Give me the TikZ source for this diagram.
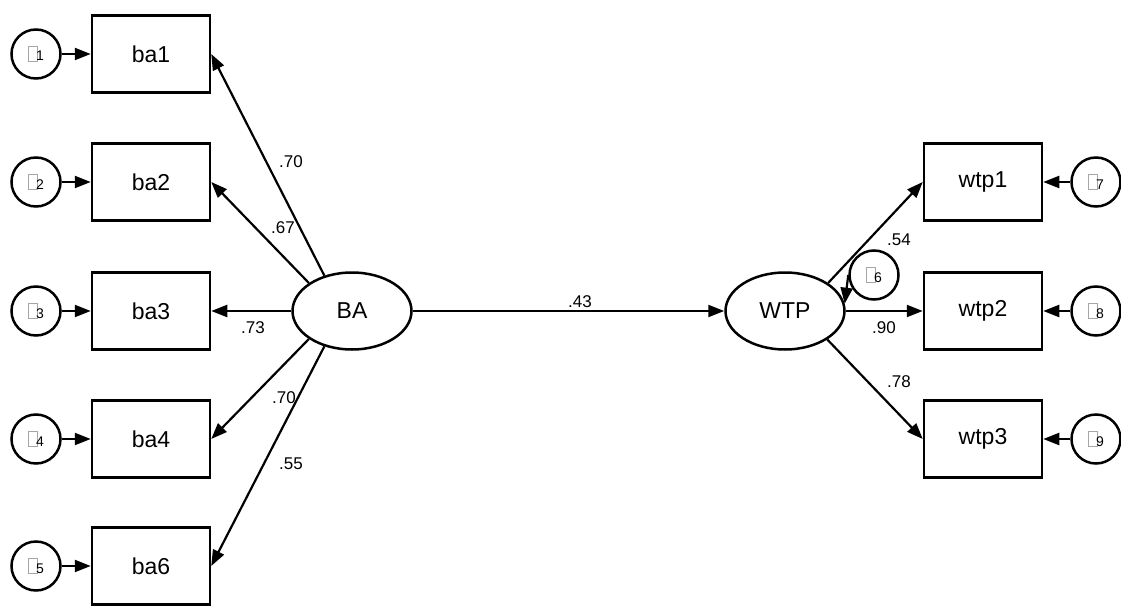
\documentclass[tikz,border=0pt]{standalone}
\usepackage{fontspec}
\setmainfont{Liberation Sans}
\usetikzlibrary{shapes.geometric,arrows.meta}

% error term label: empty glyph box plus index
\newcommand{\errlbl}[1]{{\color{gray!70}\setlength{\fboxsep}{0pt}\setlength{\fboxrule}{0.8pt}\fbox{\rule{0pt}{14pt}\hspace{8pt}}}\kern-1.5pt{\fontsize{14}{14}\selectfont #1}}

\begin{document}
\begin{tikzpicture}[x=1pt,y=-1pt,>={Triangle[length=16pt,width=12pt]},
  obs/.style={draw,line width=2.5pt,minimum width=118pt,minimum height=77pt,font=\fontsize{23}{26}\selectfont},
  lat/.style={draw,ellipse,line width=2.5pt,minimum width=119pt,minimum height=77pt,inner sep=0pt,font=\fontsize{23}{26}\selectfont},
  err/.style={draw,circle,line width=2.5pt,minimum size=49pt,inner sep=0pt},
  arr/.style={->,line width=2.2pt},
  coef/.style={font=\fontsize{17}{20}\selectfont}]
  \useasboundingbox (0,0) rectangle (1121,607);
  % BA indicators
  \node[obs] (ba1) at (151,54) {ba1};
  \node[obs] (ba2) at (151,182) {ba2};
  \node[obs] (ba3) at (151,311) {ba3};
  \node[obs] (ba4) at (151,439) {ba4};
  \node[obs] (ba6) at (151,566) {ba6};
  \node[err] (e1) at (36,54) {\errlbl{1}};
  \node[err] (e2) at (36,182) {\errlbl{2}};
  \node[err] (e3) at (36,311) {\errlbl{3}};
  \node[err] (e4) at (36,439) {\errlbl{4}};
  \node[err] (e5) at (36,566) {\errlbl{5}};
  % latents
  \node[lat] (BA) at (352,311) {BA};
  \node[lat] (WTP) at (785,311) {WTP};
  \node[err] (e6) at (874,275) {\errlbl{6}};
  % WTP indicators
  \node[obs] (wtp1) at (983,182) {wtp1};
  \node[obs] (wtp2) at (983,311) {wtp2};
  \node[obs] (wtp3) at (983,439) {wtp3};
  \node[err] (e7) at (1096,182) {\errlbl{7}};
  \node[err] (e8) at (1096,311) {\errlbl{8}};
  \node[err] (e9) at (1096,439) {\errlbl{9}};
  % errors -> indicators
  \draw[arr] (e1)--(ba1); \draw[arr] (e2)--(ba2); \draw[arr] (e3)--(ba3);
  \draw[arr] (e4)--(ba4); \draw[arr] (e5)--(ba6);
  \draw[arr] (e7)--(wtp1); \draw[arr] (e8)--(wtp2); \draw[arr] (e9)--(wtp3);
  % loadings
  \draw[arr] (BA.128)--(ba1.east); \draw[arr] (BA.147)--(ba2.east);
  \draw[arr] (BA)--(ba3); \draw[arr] (BA.213)--(ba4.east);
  \draw[arr] (BA.232)--(ba6.east);
  \draw[arr] (BA)--(WTP);
  \draw[arr] (WTP.33)--(wtp1.west); \draw[arr] (WTP)--(wtp2);
  \draw[arr] (WTP.-34)--(wtp3.west);
  \draw[arr] (e6.west)--(WTP.7);
  % coefficients
  \node[coef] (c1) at (291,162) {.70};
  \node[coef] (c2) at (283,228) {.67};
  \node[coef] (c3) at (253,328) {.73};
  \node[coef] (c4) at (284,398) {.70};
  \node[coef] (c5) at (291,464) {.55};
  \node[coef] (c6) at (580,302) {.43};
  \node[coef] (c7) at (899,240) {.54};
  \node[coef] (c8) at (884,328) {.90};
  \node[coef] (c9) at (899,382) {.78};
\end{tikzpicture}
\end{document}
